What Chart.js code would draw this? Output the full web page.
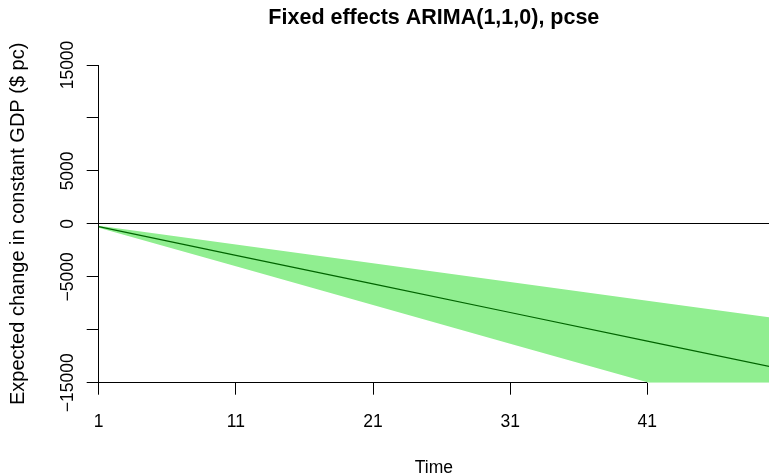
<!DOCTYPE html>
<html>
<head>
<meta charset="utf-8">
<script src="https://cdn.jsdelivr.net/npm/chart.js@4.4.1/dist/chart.umd.min.js"></script>
<style>
  html, body { margin: 0; padding: 0; background: #fff; overflow: hidden; }
</style>
</head>
<body>
<canvas id="chart" width="769" height="474"></canvas>
<script>
// Тексты
const TITLE   = 'Fixed effects ARIMA(1,1,0), pcse';
const X_LABEL = 'Time';
const Y_LABEL = 'Expected change in constant GDP ($ pc)';

// Данные
const times      = [1, 11, 21, 31, 41, 50];
const meanChange = [-270, -2970, -5670, -8370, -11070, -13500];
const upperBound = [-177, -1950, -3720, -5490, -7260, -8850];
const lowerBound = [-365, -4015, -7665, -11315, -14965, -18250];

// Оси
const xTicks    = [1, 11, 21, 31, 41];
const yTicks    = [-15000, -10000, -5000, 0, 5000, 10000, 15000];
const yLabelled = [-15000, -5000, 0, 5000, 15000];

const FONT = "'Liberation Sans', Arial, Helvetica, sans-serif";
const BAND = '#90EE90';
const LINE = '#006400';

const pts = vals => times.map((t, i) => ({ x: t, y: vals[i] }));
const fmt = v => (v < 0 ? '\u2212' + Math.abs(v) : String(v));

// Линия оси X только от первого до последнего деления, как в R
const rAxisLine = {
    id: 'rAxisLine',
    afterDraw(chart) {
        const { ctx, chartArea, scales: { x } } = chart;
        const y = Math.floor(chartArea.bottom) + 0.5;
        ctx.save();
        ctx.strokeStyle = '#000';
        ctx.lineWidth = 1;
        ctx.beginPath();
        ctx.moveTo(x.getPixelForValue(xTicks[0]), y);
        ctx.lineTo(x.getPixelForValue(xTicks[xTicks.length - 1]), y);
        ctx.stroke();
        ctx.restore();
    },
};

Chart.defaults.font.family = FONT;
Chart.defaults.color = '#000';

new Chart(document.getElementById('chart'), {
    type: 'line',
    data: {
        datasets: [
            {
                label: 'mean',
                data: pts(meanChange),
                borderColor: LINE,
                borderWidth: 1.2,
                pointRadius: 0,
                fill: false,
            },
            {
                label: 'upper',
                data: pts(upperBound),
                borderWidth: 0,
                pointRadius: 0,
                backgroundColor: BAND,
                fill: '+1',
            },
            {
                label: 'lower',
                data: pts(lowerBound),
                borderWidth: 0,
                pointRadius: 0,
                fill: false,
            },
        ],
    },
    options: {
        responsive: false,
        devicePixelRatio: 1,
        animation: false,
        layout: { padding: 0 },
        plugins: {
            legend: { display: false },
            tooltip: { enabled: false },
            title: {
                display: true,
                text: TITLE,
                fullSize: false,
                color: '#000',
                font: { family: FONT, size: 21.5, weight: 'bold', lineHeight: 1.2 },
                padding: { top: 5, bottom: 34.2 },
            },
        },
        scales: {
            x: {
                type: 'linear',
                min: 1,
                max: 49.87,
                afterBuildTicks: s => { s.ticks = xTicks.map(v => ({ value: v })); },
                afterFit: s => { s.height = 91.3; },
                border: { display: false },
                grid: { drawOnChartArea: false, drawTicks: true, tickLength: 12, tickColor: '#000' },
                ticks: { color: '#000', font: { size: 17.5 }, padding: 17, maxRotation: 0, autoSkip: false },
                title: { display: true, text: X_LABEL, color: '#000', font: { size: 17.5 }, padding: { bottom: -4.5 } },
            },
            y: {
                type: 'linear',
                min: -15000,
                max: 15000,
                afterBuildTicks: s => { s.ticks = yTicks.map(v => ({ value: v })); },
                afterFit: s => { s.width = 98.7; },
                border: { display: true, color: '#000', width: 1 },
                grid: {
                    drawOnChartArea: true,
                    color: c => (c.tick && c.tick.value === 0 ? '#000' : 'rgba(0,0,0,0)'),
                    drawTicks: true,
                    tickLength: 12,
                    tickColor: '#000',
                },
                ticks: {
                    color: '#000',
                    font: { size: 17.5 },
                    minRotation: 90,
                    maxRotation: 90,
                    crossAlign: 'center',
                    padding: -10.7,
                    autoSkip: false,
                    callback: v => (yLabelled.includes(v) ? fmt(v) : ''),
                },
                title: { display: true, text: Y_LABEL, color: '#000', font: { size: 20 }, padding: { top: 6 } },
            },
        },
    },
    plugins: [rAxisLine],
});
</script>
</body>
</html>
